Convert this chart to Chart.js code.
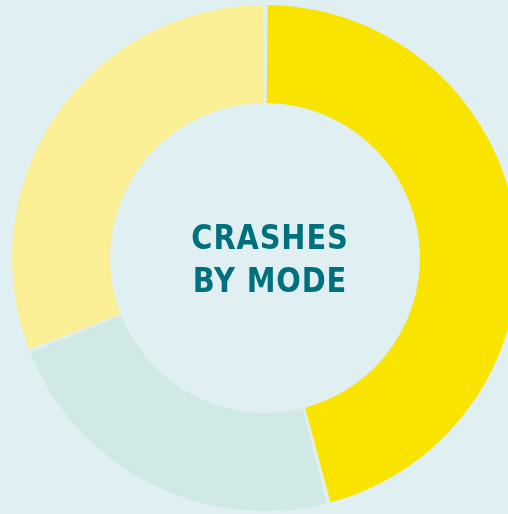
<!DOCTYPE html>
<html>
<head>
<meta charset="utf-8">
<script src="https://cdn.jsdelivr.net/npm/chart.js@4"></script>
<style>
    html, body {
        margin: 0;
        width: 508px;
        height: 514px;
        overflow: hidden;
        background: #dfeff2;
    }
    #wrap {
        position: absolute;
        left: 12px;
        top: 5px;
        width: 506px;
        height: 506px;
    }
    #title {
        position: absolute;
        left: 167px;
        top: 216px;
        width: 206px;
        text-align: center;
        font-family: "DejaVu Sans", sans-serif;
        font-weight: bold;
        font-size: 34px;
        line-height: 43px;
        letter-spacing: 1px;
        color: #00717c;
        transform: scaleX(0.85);
    }
</style>
</head>
<body>
<div id="wrap"><canvas id="modeChart"></canvas></div>
<div id="title">CRASHES<br>BY MODE</div>
<script>
    const modes = ['Mode A', 'Mode B', 'Mode C'];
    const shares = [46, 23, 31];
    const colours = ['#f9e400', '#d0e9e5', '#fbef95'];

    const ctx = document.getElementById('modeChart').getContext('2d');
    new Chart(ctx, {
        type: 'doughnut',
        data: {
            labels: modes,
            datasets: [{
                data: shares,
                backgroundColor: colours,
                borderWidth: 0,
                spacing: 3
            }]
        },
        options: {
            responsive: true,
            maintainAspectRatio: false,
            animation: false,
            cutout: '61%',
            layout: { padding: 0 },
            plugins: {
                legend: { display: false },
                tooltip: { enabled: false }
            }
        }
    });
</script>
</body>
</html>
